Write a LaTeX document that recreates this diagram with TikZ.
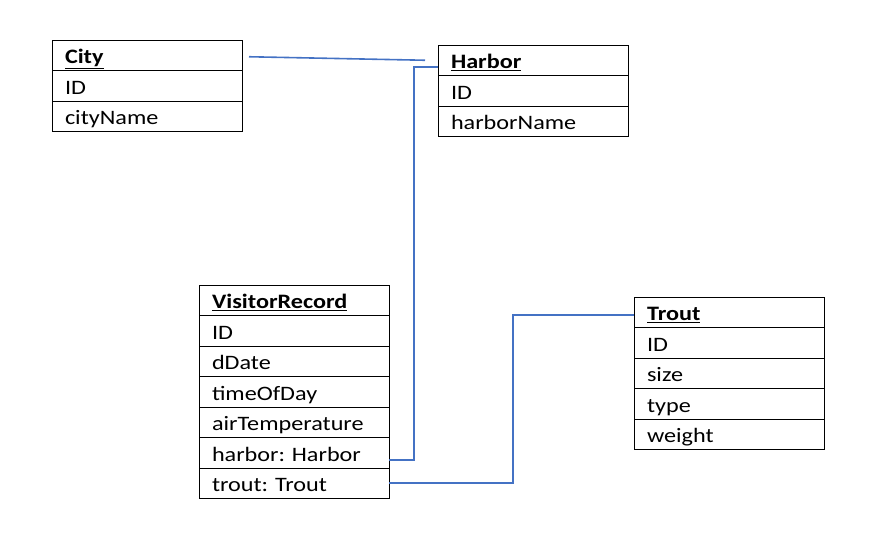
\documentclass[tikz,border=0pt]{standalone}
\usepackage{fontspec}
\setmainfont{Carlito}[FakeStretch=1.18]
\usepackage{xcolor}
\usetikzlibrary{positioning}
\definecolor{linkblue}{HTML}{4472C4}
\frenchspacing

\begin{document}
\begin{tikzpicture}[x=1pt, y=-1pt,
                   field/.style={draw, line width=1pt, rectangle, outer sep=0pt,
                                 minimum width=190pt, minimum height=30.5pt,
                                 text width=164pt, inner xsep=13pt, inner ysep=2pt, align=left,
                                 text height=21pt, text depth=4pt,
                                 font=\fontsize{20.5}{24}\selectfont},
                   head/.style={field, anchor=north west, font=\fontsize{20.5}{24}\selectfont\bfseries},
                   link/.style={draw=linkblue, line width=1.6pt}]
  \useasboundingbox (0,0) rectangle (882,552);
  % City
  \node[head] (city) at (52,40) {\underline{City}};
  \node[field, below=0pt of city] (city-id) {ID};
  \node[field, below=0pt of city-id] (city-name) {cityName};
  % Harbor
  \node[head] (harbor) at (438,45) {\underline{Harbor}};
  \node[field, below=0pt of harbor] (harbor-id) {ID};
  \node[field, below=0pt of harbor-id] (harbor-name) {harborName};
  % VisitorRecord
  \node[head] (vr) at (199,285) {\underline{VisitorRecord}};
  \node[field, below=0pt of vr] (vr-id) {ID};
  \node[field, below=0pt of vr-id] (vr-date) {dDate};
  \node[field, below=0pt of vr-date] (vr-time) {timeOfDay};
  \node[field, below=0pt of vr-time] (vr-temp) {airTemperature};
  \node[field, below=0pt of vr-temp] (vr-harbor) {harbor: Harbor};
  \node[field, below=0pt of vr-harbor] (vr-trout) {trout: Trout};
  % Trout
  \node[head] (trout) at (634,297) {\underline{Trout}};
  \node[field, below=0pt of trout] (trout-id) {ID};
  \node[field, below=0pt of trout-id] (trout-size) {size};
  \node[field, below=0pt of trout-size] (trout-type) {type};
  \node[field, below=0pt of trout-type] (trout-weight) {weight};
  % links
  \coordinate (c-end) at ([xshift=7pt, yshift=-1.5pt]city.east);
  \coordinate (h-end) at ([xshift=-13pt]harbor.west);
  \draw[link] (c-end) -- (h-end);
  \draw[link] ([yshift=-6.5pt]harbor.west) -- ++(-24,0) |- ([yshift=-7pt]vr-harbor.east);
  \draw[link] (vr-trout.east) -- ++(124,0) |- ([yshift=-2.5pt]trout.west);
\end{tikzpicture}
\end{document}
